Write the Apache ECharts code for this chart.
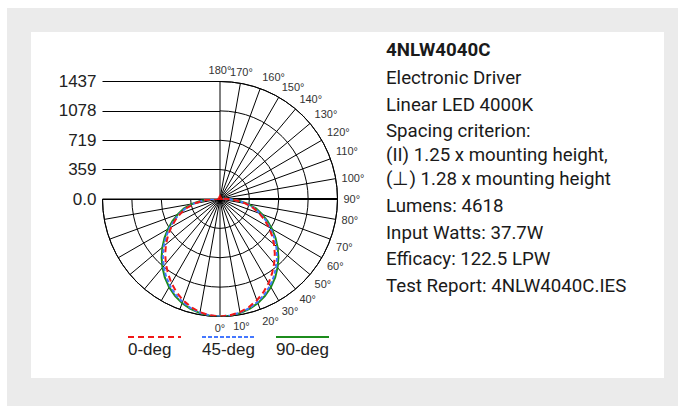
<!DOCTYPE html>
<html>
<head>
<meta charset="utf-8">
<script src="https://cdn.jsdelivr.net/npm/echarts@6/dist/echarts.min.js"></script>
<style>
  html, body { margin: 0; padding: 0; background: #fff; }
  .frame { position: absolute; left: 7px; top: 8px; width: 671px; height: 398px; background: #ebebeb; }
  .panel { position: absolute; left: 31px; top: 32px; width: 633px; height: 346px; background: #fff; }
  #chart { position: absolute; left: 0; top: 0; width: 678px; height: 406px; }
</style>
</head>
<body>
<div class="frame"></div>
<div class="panel"></div>
<div id="chart"></div>
<script>
// photometric angles, degrees from nadir
const angles = [0, 5, 10, 15, 20, 25, 30, 35, 40, 45, 50, 55, 60, 65, 70, 75, 80, 85, 90,
  95, 100, 105, 110, 115, 120, 125, 130, 135, 140, 145, 150, 155, 160, 165, 170, 175, 180];
// candela per plane
const cd0 = [1437, 1428, 1405, 1368, 1318, 1258, 1188, 1110, 1030, 948, 862, 775, 688, 600, 510, 418, 318, 205, 95,
  30, 14, 12, 11, 10, 10, 10, 10, 10, 10, 10, 10, 10, 10, 10, 10, 10, 10];
const cd45 = [1437, 1430, 1412, 1382, 1340, 1288, 1225, 1152, 1072, 988, 898, 805, 712, 618, 525, 435, 330, 215, 102,
  34, 16, 13, 12, 11, 11, 11, 11, 11, 11, 11, 11, 11, 11, 11, 11, 11, 11];
const cd90 = [1437, 1432, 1418, 1392, 1355, 1305, 1245, 1175, 1095, 1010, 920, 828, 735, 642, 548, 460, 350, 230, 110,
  38, 18, 15, 14, 13, 13, 13, 13, 13, 13, 13, 13, 13, 13, 13, 13, 13, 13];
const seriesNames = ['0-deg', '45-deg', '90-deg'];
const radiusTicks = ['0.0', '359', '719', '1078', '1437'];
const angleTicks = ['180°', '170°', '160°', '150°', '140°', '130°', '120°', '110°', '100°', '90°',
  '80°', '70°', '60°', '50°', '40°', '30°', '20°', '10°', '0°'];
const infoLines = [
  '4NLW4040C',
  'Electronic Driver',
  'Linear LED 4000K',
  'Spacing criterion:\n(II) 1.25 x mounting height,\n(⊥) 1.28 x mounting height',
  'Lumens: 4618',
  'Input Watts: 37.7W',
  'Efficacy: 122.5 LPW',
  'Test Report: 4NLW4040C.IES'
];

const maxCd = 1437;
const infoY = [50, 78, 104.5, 155, 206, 232.5, 259, 286];

// angle axis runs 0..270 clockwise from the top: right half = 180 - a, left half = 180 + a
function toPolar(vals) {
  const pts = [];
  for (let i = angles.length - 1; i >= 0; i--) pts.push([vals[i], 180 + angles[i]]);
  for (let i = 1; i < angles.length; i++) pts.push([vals[i], 180 - angles[i]]);
  return pts;
}

function curve(name, vals, color, type, z) {
  return {
    name: name,
    type: 'line',
    coordinateSystem: 'polar',
    data: toPolar(vals),
    symbol: 'none',
    clip: false,
    silent: true,
    z: z,
    itemStyle: { color: color },
    lineStyle: { color: color, width: 2, type: type }
  };
}

function legendAt(name, left) {
  return {
    data: [name],
    left: left,
    top: 313,
    padding: 0,
    itemWidth: 53,
    itemHeight: 12,
    selectedMode: false,
    formatter: '\n{name}',
    itemStyle: { color: 'transparent', borderWidth: 0 },
    textStyle: {
      fontSize: 17,
      lineHeight: 24,
      color: '#222',
      fontFamily: 'Liberation Sans',
      padding: [0, 0, 0, -58]
    }
  };
}

const chart = echarts.init(document.getElementById('chart'), null, { renderer: 'svg' });
chart.setOption({
  animation: false,
  polar: { center: [220, 199], radius: 117.5 },
  angleAxis: {
    type: 'value',
    min: 0,
    max: 270,
    interval: 10,
    startAngle: 90,
    endAngle: -180,
    clockwise: true,
    axisLine: { lineStyle: { color: '#000', width: 1 } },
    axisTick: { show: false },
    axisLabel: {
      margin: 6,
      fontSize: 11,
      color: '#333',
      fontFamily: 'Liberation Sans',
      formatter: v => angleTicks[Math.round(v / 10)] || ''
    },
    splitLine: { lineStyle: { color: '#000', width: 1 } }
  },
  radiusAxis: {
    type: 'value',
    min: 0,
    max: maxCd,
    interval: maxCd / 4,
    axisLine: { show: false },
    axisTick: { show: false },
    axisLabel: { show: false },
    splitLine: { show: true, lineStyle: { color: '#000', width: 1 } }
  },
  grid: { left: 102.5, top: 81.5, width: 117.5, height: 117.5 },
  xAxis: { type: 'value', min: 0, max: 1, show: false },
  yAxis: {
    type: 'value',
    min: 0,
    max: maxCd,
    interval: maxCd / 4,
    axisLine: { show: false },
    axisTick: { show: false },
    axisLabel: {
      margin: 6,
      fontSize: 17,
      color: '#222',
      fontFamily: 'Liberation Sans',
      formatter: v => radiusTicks[Math.round(v / (maxCd / 4))]
    },
    splitLine: { lineStyle: { color: '#000', width: 1 } }
  },
  legend: [
    legendAt(seriesNames[0], 127),
    legendAt(seriesNames[1], 201),
    legendAt(seriesNames[2], 275)
  ],
  graphic: infoLines.map((t, i) => ({
    type: 'text',
    x: 386,
    y: infoY[i],
    silent: true,
    style: {
      text: t,
      fontSize: 18.7,
      fontFamily: 'Roboto',
      fontWeight: i === 0 ? 'bold' : 'normal',
      fill: '#1a1a1a',
      lineHeight: 24,
      verticalAlign: 'middle'
    }
  })),
  series: [
    {
      // heavier 90° line on the right
      type: 'line',
      coordinateSystem: 'polar',
      data: [[0, 90], [maxCd, 90]],
      symbol: 'none',
      silent: true,
      z: 1,
      lineStyle: { color: '#000', width: 2 }
    },
    curve(seriesNames[2], cd90, '#1c8c1c', 'solid', 3),
    curve(seriesNames[1], cd45, '#4477ff', [4, 2], 4),
    curve(seriesNames[0], cd0, '#f01818', [6, 4], 5),
    {
      type: 'scatter',
      coordinateSystem: 'polar',
      data: [[0, 0]],
      symbol: 'triangle',
      symbolSize: [7, 6],
      symbolOffset: [0, -2],
      silent: true,
      z: 10,
      itemStyle: { color: '#ff0000' }
    }
  ]
});
</script>
</body>
</html>
